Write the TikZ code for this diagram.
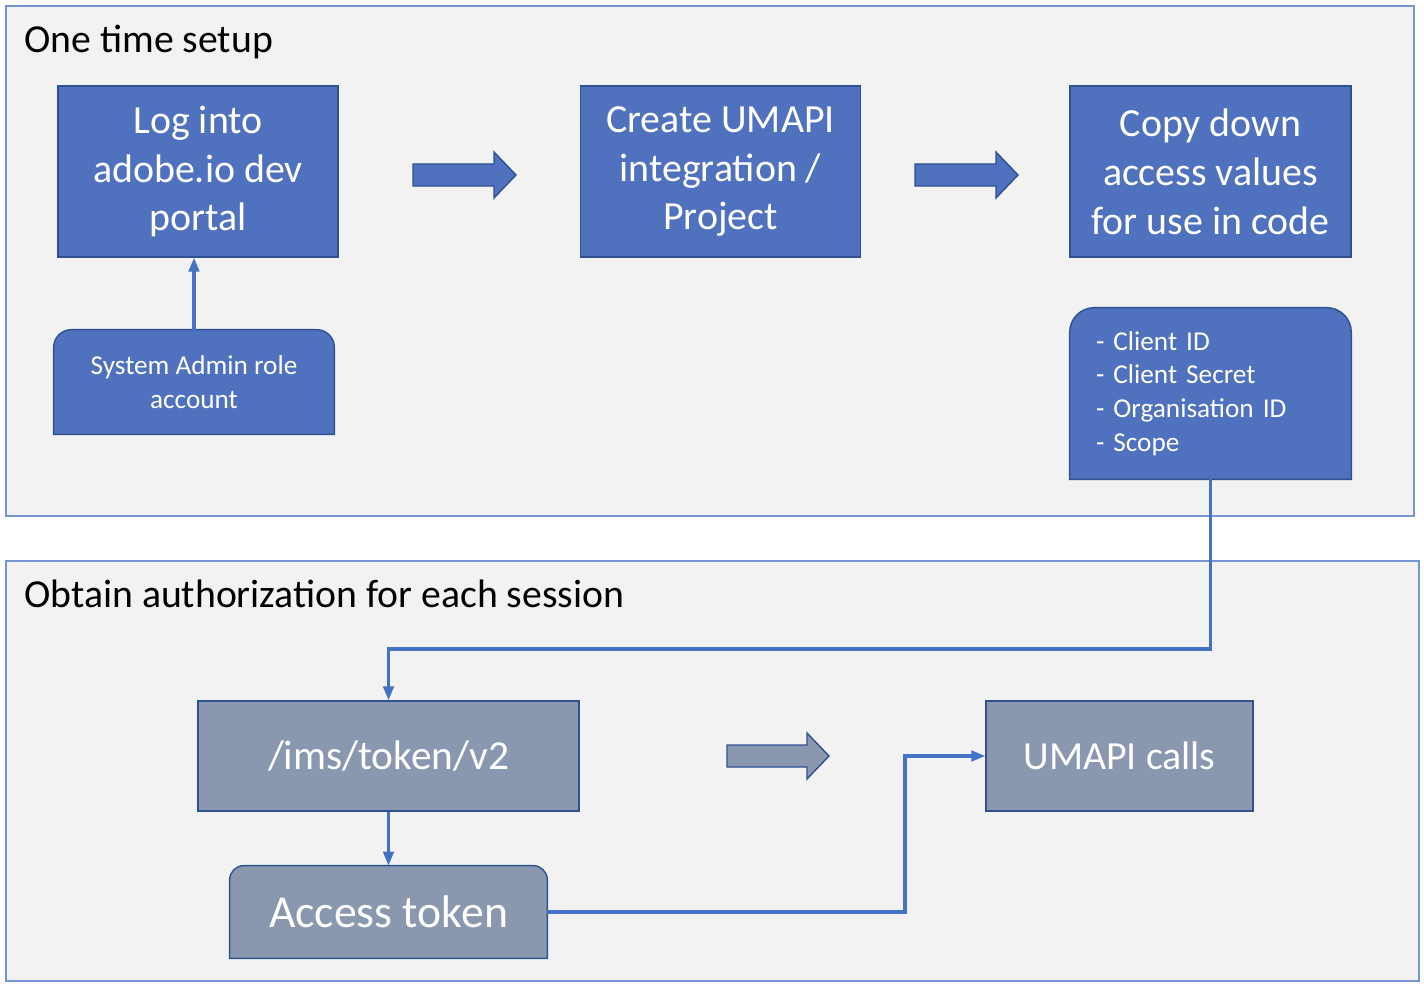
\documentclass[tikz,border=0pt]{standalone}
\usepackage{fontspec}
\setmainfont{Carlito}
\usetikzlibrary{arrows.meta,backgrounds}

\definecolor{boxblue}{HTML}{4F71BE}
\definecolor{boxgray}{HTML}{8998AF}
\definecolor{edgeblue}{HTML}{2F528F}
\definecolor{lineblue}{HTML}{4472C4}
\definecolor{framblue}{HTML}{7896D4}
\definecolor{panelgray}{HTML}{F2F2F2}

\tikzset{
  panel/.style={draw=framblue, fill=panelgray, line width=1pt},
  title/.style={anchor=base west, inner sep=0pt, font=\fontsize{22.6}{26}\selectfont},
  stepbox/.style={draw=edgeblue, fill=boxblue, text=white, align=center, inner sep=0pt,
    line width=0.8pt, font=\fontsize{22.7}{27.8}\selectfont, minimum width=5.6cm, minimum height=3.42cm},
  callbox/.style={stepbox, fill=boxgray},
  tabtext/.style={text=white, inner sep=0pt, font=\fontsize{15.5}{19.2}\selectfont},
  tabshape/.style={draw=edgeblue, line width=0.8pt},
  conn/.style={draw=lineblue, line width=1.8pt, -{Triangle[length=8pt,width=6pt]}},
  bigarrow/.style={draw=edgeblue, fill=boxblue, line width=0.8pt}
}

\begin{document}
\begin{tikzpicture}[x=0.02cm, y=-0.02cm]
        \useasboundingbox (0,0) rectangle (1424,990);

        % Titles
        \node[title] (setup) at (24,53) {One time setup};
        \node[title] (session) at (24,607) {Obtain authorization for each session};

        % One time setup
        \node[stepbox] (login) at (198,171.5) {Log into\\adobe.io dev\\portal};
        \node[stepbox] (create) at (720.5,171.5) {Create UMAPI\\integration /\\Project};
        \node[stepbox, minimum width=5.62cm] (copy) at (1210.5,171.5) {Copy down\\access values\\for use in code};
        \node[tabtext, align=center, minimum width=5.6cm, minimum height=2.08cm] (admin) at (194,382) {System Admin role\\account};
        \node[tabtext, align=left, text width=4.58cm, inner xsep=0.52cm, minimum height=3.42cm] (values) at (1210.5,393.5)
            {- Client ID\\- Client Secret\\- Organisation ID\\- Scope};

        % Block arrows
        \draw[bigarrow] (413,164) -- (494,164) -- (494,152) -- (516,175) -- (494,198) -- (494,186) -- (413,186) -- cycle;
        \draw[bigarrow] (915,164) -- (996,164) -- (996,152) -- (1018,175) -- (996,198) -- (996,186) -- (915,186) -- cycle;

        % Each session
        \node[callbox, font=\fontsize{23.5}{28}\selectfont, minimum width=7.62cm, minimum height=2.2cm] (ims) at (388.5,756) {/ims/token/v2};
        \node[tabtext, font=\fontsize{26}{30}\selectfont, minimum width=6.34cm, minimum height=1.84cm] (token) at (388.5,912) {Access token};
        \node[callbox, minimum width=5.34cm, minimum height=2.2cm] (calls) at (1119.5,756) {UMAPI calls};
        \draw[bigarrow, fill=boxgray] (727,745) -- (807,745) -- (807,733) -- (829,756) -- (807,779) -- (807,767) -- (727,767) -- cycle;

        % Panels and tabs with rounded tops
        \begin{scope}[on background layer]
            \draw[panel] (6,6) rectangle (1414,516);
            \draw[panel] (6,561) rectangle (1419,981);
            \draw[tabshape, fill=boxblue] (admin.south west) [rounded corners=10pt] -- (admin.north west) -- (admin.north east) [sharp corners] -- (admin.south east) -- cycle;
            \draw[tabshape, fill=boxblue] (values.south west) [rounded corners=14pt] -- (values.north west) -- (values.north east) [sharp corners] -- (values.south east) -- cycle;
            \draw[tabshape, fill=boxgray] (token.south west) [rounded corners=8pt] -- (token.north west) -- (token.north east) [sharp corners] -- (token.south east) -- cycle;
        \end{scope}

        % Connectors
        \coordinate (turn) at (388.5,649);
        \coordinate (jog) at (905,834);
        \draw[conn] (admin.north) -- (admin.north |- login.south);
        \draw[conn] (values.south) |- (turn) -- (ims.north);
        \draw[conn] (ims.south) -- (token.north);
        \draw[conn] (token.east) -| (jog) |- (calls.west);
    \end{tikzpicture}
\end{document}
